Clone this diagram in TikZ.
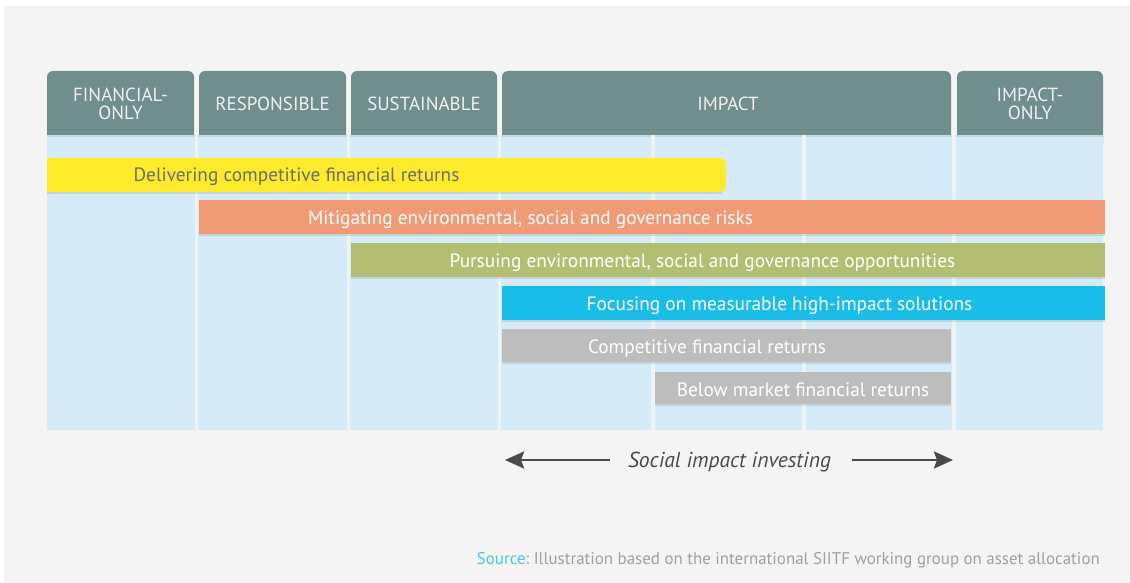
\documentclass[tikz,border=0pt]{standalone}
\usepackage{fontspec}
\setmainfont{PT Sans}
\usetikzlibrary{arrows.meta}
\definecolor{bgc}{HTML}{F4F4F4}
\definecolor{hdrc}{HTML}{6F8E8C}
\definecolor{bodyc}{HTML}{D5EBF8}
\definecolor{sepc}{HTML}{EEF3F5}
\definecolor{ylw}{HTML}{FFEA2C}
\definecolor{org}{HTML}{F09A76}
\definecolor{olv}{HTML}{B4BE72}
\definecolor{blu}{HTML}{1ABCE8}
\definecolor{gry}{HTML}{BDBDBD}
\definecolor{ytxt}{HTML}{6E6E6E}
\definecolor{srcc}{HTML}{4BC4EA}
\definecolor{srcg}{HTML}{A0A0A0}
\definecolor{arrc}{HTML}{4A4A4A}
\begin{document}
\begin{tikzpicture}[x=1pt,y=-1pt,
  htxt/.style={text=white!94!black, align=center, inner sep=0pt, font=\fontsize{19}{18}\selectfont},
  btxt/.style={text=white, inner sep=0pt, font=\fontsize{19.3}{20}\selectfont},
  arr/.style={draw=arrc, line width=2.8pt, -{Stealth[length=19pt,width=17pt,inset=3pt]}},
  barshadow/.style={fill=black, opacity=0.10}]
\useasboundingbox (0,0) rectangle (1130,583);
\fill[white] (0,0) rectangle (1130,583);
\fill[bgc] (4,6) rectangle (1130,583);
% headers
\foreach \a/\b in {47/194,199/346,351/497,502/951,957/1103}
  \fill[hdrc, rounded corners=6pt] (\a,150) -- (\a,71) -- (\b,71) -- (\b,150) -- cycle;
% body
\fill[bodyc] (47,135) rectangle (1103,430);
\fill[black, opacity=0.08] (47,135) rectangle (1103,137);
\foreach \x in {196.5,348.5,499.5,653,804,954}
  \fill[sepc] (\x-1.8,135) rectangle (\x+1.8,430);
% header texts
\node[htxt] (fin) at (120.5,104) {FINANCIAL-\\ONLY};
\node[htxt] (res) at (272.5,104) {RESPONSIBLE};
\node[htxt] (sus) at (424,104) {SUSTAINABLE};
\node[htxt] (imp) at (728,104) {IMPACT};
\node[htxt] (imo) at (1030,104) {IMPACT-\\ONLY};
% bars
\fill[barshadow] (47,192) rectangle (722,194);
\fill[ylw, rounded corners=6pt] (47,158) rectangle (726,192);
\fill[ylw] (47,158) rectangle (700,192);
\fill[barshadow] (199,234) rectangle (1105,236);
\fill[org] (199,200) rectangle (1105,234);
\fill[barshadow] (351,277) rectangle (1105,279);
\fill[olv] (351,243) rectangle (1105,277);
\fill[barshadow] (502,320) rectangle (1105,322);
\fill[blu] (502,286) rectangle (1105,320);
\fill[barshadow] (502,362) rectangle (951,364);
\fill[gry] (502,329) rectangle (951,362);
\fill[barshadow] (655,404) rectangle (951,406);
\fill[gry] (655,372) rectangle (951,404);
% bar texts
\node[btxt, text=ytxt] (t1) at (296.5,177) {Delivering competitive financial returns};
\node[btxt] (t2) at (530.5,220) {Mitigating environmental, social and governance risks};
\node[btxt] (t3) at (702.5,263) {Pursuing environmental, social and governance opportunities};
\node[btxt] (t4) at (779.5,306) {Focusing on measurable high-impact solutions};
\node[btxt] (t5) at (707,349) {Competitive financial returns};
\node[btxt] (t6) at (803,390) {Below market financial returns};
% social impact investing
\node[text=arrc, inner sep=0pt, font=\fontsize{21.6}{22}\selectfont\itshape] (sii) at (729.5,462) {Social impact investing};
\coordinate (la) at (505,460);
\coordinate (ra) at (953,460);
\draw[arr, shorten <=18pt] (sii.west |- la) -- (la);
\draw[arr, shorten <=21pt] (sii.east |- ra) -- (ra);
% source
\node[anchor=east, inner sep=0pt, font=\fontsize{16.9}{18}\selectfont] (src) at (1100,560)
  {\textcolor{srcc}{Source:}\ \textcolor{srcg}{Illustration based on the international SIITF working group on asset allocation}};
\end{tikzpicture}
\end{document}
